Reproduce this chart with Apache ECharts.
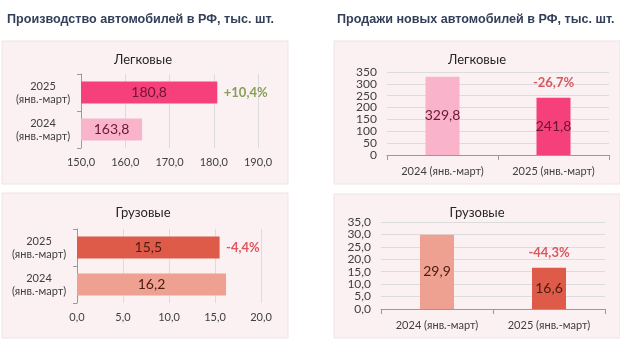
<!DOCTYPE html>
<html>
<head>
<meta charset="utf-8">
<script src="https://cdn.jsdelivr.net/npm/echarts@6/dist/echarts.min.js"></script>
<style>
  html, body { margin: 0; padding: 0; background: #ffffff; }
  #chart { width: 620px; height: 348px; }
</style>
</head>
<body>
<div id="chart"></div>
<script>
// Periods (2024 first, 2025 second)
const periodsShort = ['2024\n(янв.-март)', '2025\n(янв.-март)'];
const periodsLong = ['2024 (янв.-март)', '2025 (янв.-март)'];

// Production, thousand units
const prodPassenger = [163.8, 180.8];
const prodTrucks = [16.2, 15.5];
// Sales of new vehicles, thousand units
const salesPassenger = [329.8, 241.8];
const salesTrucks = [29.9, 16.6];

// Year-over-year change labels
const chgProdPassenger = '+10,4%';
const chgProdTrucks = '-4,4%';
const chgSalesPassenger = '-26,7%';
const chgSalesTrucks = '-44,3%';

// Axis ticks
const prodPassengerTicks = [150, 160, 170, 180, 190];
const prodTruckTicks = [0, 5, 10, 15, 20];
const salesPassengerTicks = [0, 50, 100, 150, 200, 250, 300, 350];
const salesTruckTicks = [0, 5, 10, 15, 20, 25, 30, 35];

const FONT = 'Lato, "Open Sans", sans-serif';
const TITLE_FONT = '"Liberation Sans", Arial, sans-serif';
const PINK = ['#f9b4cc', '#f5407c'];
const RED = ['#eea091', '#dd5b48'];
const comma = v => v.toFixed(1).replace('.', ',');

const chart = echarts.init(document.getElementById('chart'), null, { renderer: 'canvas' });

function barData(values, colors) {
  return values.map((v, i) => ({ value: v, itemStyle: { color: colors[i] } }));
}

const grids = [
  { left: 81, right: 362, top: 74, bottom: 200 },   // production, passenger
  { left: 387, right: 11, top: 72, bottom: 193 },   // sales, passenger
  { left: 77, right: 359, top: 229, bottom: 45 },   // production, trucks
  { left: 381, right: 15, top: 222, bottom: 39 }    // sales, trucks
];

const labelStyle = { color: '#404040', fontFamily: FONT, fontSize: 11 };

function hValueAxis(gi, ticks) {
  return {
    type: 'value', gridIndex: gi,
    min: ticks[0], max: ticks[ticks.length - 1], interval: ticks[1] - ticks[0],
    axisLine: { show: false }, axisTick: { show: false },
    axisLabel: Object.assign({ formatter: v => comma(v), margin: 9 }, labelStyle),
    splitLine: { lineStyle: { color: '#dcdcdc' } }
  };
}
function hCatAxis(gi) {
  return {
    type: 'category', gridIndex: gi, data: periodsShort,
    axisLine: { lineStyle: { color: '#9a9a9a' } },
    axisTick: { show: true, length: 4, lineStyle: { color: '#9a9a9a' } },
    axisLabel: Object.assign({ align: 'center', margin: 38, lineHeight: 13 }, labelStyle)
  };
}
function vValueAxis(gi, ticks, fmt) {
  return {
    type: 'value', gridIndex: gi,
    min: ticks[0], max: ticks[ticks.length - 1], interval: ticks[1] - ticks[0],
    axisLine: { show: false }, axisTick: { show: false },
    axisLabel: { formatter: fmt, margin: 10, fontSize: 12, color: '#404040', fontFamily: FONT },
    splitLine: { lineStyle: { color: '#dcdcdc' } }
  };
}
function vCatAxis(gi) {
  return {
    type: 'category', gridIndex: gi, data: periodsLong,
    axisLine: { lineStyle: { color: '#9a9a9a' } },
    axisTick: { show: true, length: 5, lineStyle: { color: '#9a9a9a' } },
    axisLabel: Object.assign({ margin: 11 }, labelStyle)
  };
}

function valueLabel(color, size) {
  return { show: true, position: 'inside', formatter: p => comma(p.value), color: color, fontFamily: FONT, fontSize: size };
}
function changeMarker(xi, yi, point, text, color, pos, dist) {
  return {
    type: 'scatter', xAxisIndex: xi, yAxisIndex: yi, silent: true,
    symbolSize: 1, itemStyle: { color: 'rgba(0,0,0,0)' },
    data: [point],
    label: { show: true, position: pos, distance: dist, formatter: () => text, color: color, fontFamily: FONT, fontSize: 13, fontWeight: 'bold' }
  };
}
function subtitle(text, x, y) {
  return { text: text, left: x, top: y, textAlign: 'center', padding: 0,
    textStyle: { fontFamily: FONT, fontSize: 13, fontWeight: 'normal', color: '#262626' } };
}

const panels = [
  { x: 2, y: 41, w: 286, h: 143 },
  { x: 334, y: 41, w: 286, h: 143 },
  { x: 2, y: 193, w: 286, h: 145 },
  { x: 334, y: 194, w: 286, h: 144 }
];

const option = {
  animation: false,
  backgroundColor: '#ffffff',
  textStyle: { fontFamily: FONT },
  graphic: panels.map(p => ({
    type: 'rect', z: -10, silent: true,
    shape: { x: p.x, y: p.y, width: p.w, height: p.h },
    style: { fill: '#fbf1f2', stroke: '#f1e2e4', lineWidth: 1 }
  })),
  title: [
    { text: 'Производство автомобилей в РФ, тыс. шт.', left: 7, top: 13, padding: 0,
      textStyle: { fontFamily: TITLE_FONT, fontSize: 12.6, fontWeight: 'bold', color: '#34405a' } },
    { text: 'Продажи новых автомобилей в РФ, тыс. шт.', left: 337, top: 13, padding: 0,
      textStyle: { fontFamily: TITLE_FONT, fontSize: 12.6, fontWeight: 'bold', color: '#34405a' } },
    subtitle('Легковые', 143, 53),
    subtitle('Легковые', 477, 53),
    subtitle('Грузовые', 143, 206),
    subtitle('Грузовые', 477, 206)
  ],
  grid: grids,
  xAxis: [
    hValueAxis(0, prodPassengerTicks),
    vCatAxis(1),
    hValueAxis(2, prodTruckTicks),
    vCatAxis(3)
  ],
  yAxis: [
    hCatAxis(0),
    vValueAxis(1, salesPassengerTicks, v => String(v)),
    hCatAxis(2),
    vValueAxis(3, salesTruckTicks, v => comma(v))
  ],
  series: [
    { type: 'bar', xAxisIndex: 0, yAxisIndex: 0, barWidth: '60%', silent: true,
      data: barData(prodPassenger, PINK), label: valueLabel('#6b1632', 14) },
    { type: 'bar', xAxisIndex: 1, yAxisIndex: 1, barWidth: 34, silent: true,
      data: barData(salesPassenger, PINK), label: valueLabel('#6b1632', 14) },
    { type: 'bar', xAxisIndex: 2, yAxisIndex: 2, barWidth: '60%', silent: true,
      data: barData(prodTrucks, RED), label: valueLabel('#4e1a12', 14) },
    { type: 'bar', xAxisIndex: 3, yAxisIndex: 3, barWidth: 34, silent: true,
      data: barData(salesTrucks, RED), label: valueLabel('#4e1a12', 14) },
    changeMarker(0, 0, [prodPassenger[1], 1], chgProdPassenger, '#6a8a32', 'right', 6),
    changeMarker(1, 1, [1, salesPassenger[1]], chgSalesPassenger, '#d22f38', 'top', 8),
    changeMarker(2, 2, [prodTrucks[1], 1], chgProdTrucks, '#dc2c38', 'right', 6),
    changeMarker(3, 3, [1, salesTrucks[1]], chgSalesTrucks, '#d22f38', 'top', 8)
  ]
};

chart.setOption(option);
</script>
</body>
</html>
